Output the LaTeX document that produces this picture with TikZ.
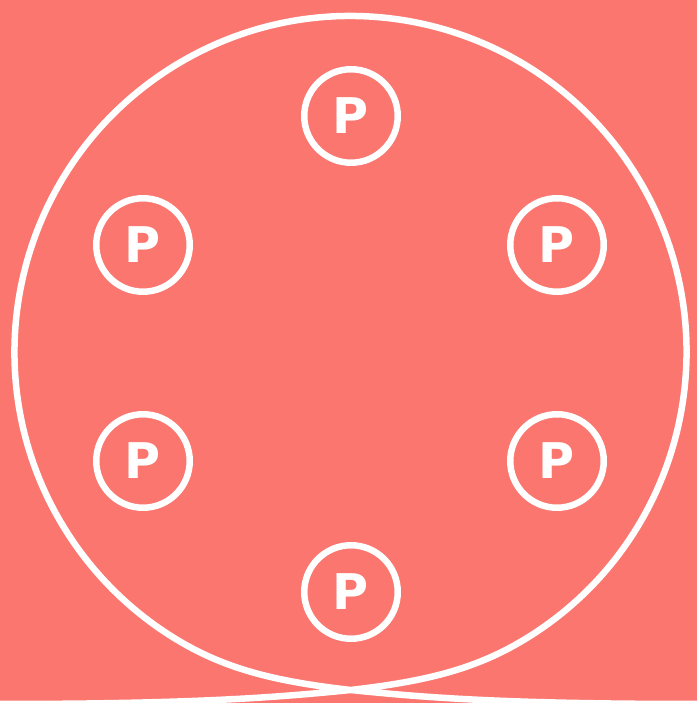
\documentclass[tikz,border=0pt]{standalone}
\usepackage{fontspec}
\setsansfont{DejaVu Sans}
\usetikzlibrary{positioning}

\definecolor{salmonbg}{RGB}{250,118,111}

\begin{document}
\begin{tikzpicture}[
    x=0.02cm, y=0.02cm,
    ring/.style={draw=white, line width=3.7pt},
    pmark/.style={circle, draw=white, line width=3.7pt, minimum size=1.87cm,
        inner sep=0pt, text=white,
        font=\sffamily\bfseries\fontsize{28}{28}\selectfont},
]

% =============================================================================
% Background
% =============================================================================
\useasboundingbox (0,0) rectangle (697,703);
\fill[salmonbg] (0,0) rectangle (697,703);
\clip (0,0) rectangle (697,703);

% Big loop with crossing tails at the bottom
\draw[ring]
    (0,-1) .. controls (200,-1) and (280,6) .. (350.5,13)
    .. controls (420,21) and (470,32) .. (518.5,60)
    arc[start angle=-60, end angle=240, radius=336]
    .. controls (231,32) and (281,21) .. (350.5,13)
    .. controls (420,6) and (497,-1) .. (697,-1);

% =============================================================================
% P markers
% =============================================================================
\node[pmark] (p1) at (351,587) {P};
\node[pmark] (p2) at (143,458) {P};
\node[pmark] (p3) at (557,458) {P};
\node[pmark] (p4) at (143,242) {P};
\node[pmark] (p5) at (557,242) {P};
\node[pmark] (p6) at (351,111) {P};

\end{tikzpicture}
\end{document}
